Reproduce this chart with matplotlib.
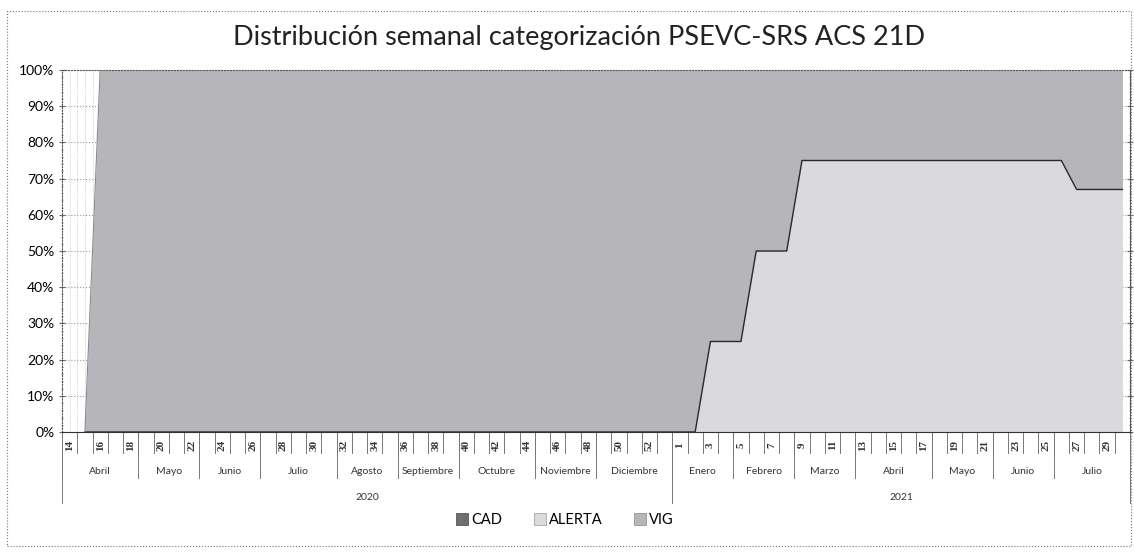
import numpy as np
import matplotlib.pyplot as plt
from matplotlib.patches import Patch, Rectangle

# semanas epidemiologicas
semanas_2020 = [14, 15, 16, 17, 18, 19, 20, 21, 22, 23, 24, 25, 26, 27, 28, 29, 30, 31, 32, 33,
                34, 35, 36, 37, 38, 39, 40, 41, 42, 43, 44, 45, 46, 47, 48, 49, 50, 51, 52, 53]
semanas_2021 = [1, 2, 3, 4, 5, 6, 7, 8, 9, 10, 11, 12, 13, 14, 15, 16, 17, 18, 19, 20,
                21, 22, 23, 24, 25, 26, 27, 28, 29, 30]

# porcentaje por categoria (100% apilado)
cad_2020 = [0, 0, 0, 0, 0, 0, 0, 0, 0, 0, 0, 0, 0, 0, 0, 0, 0, 0, 0, 0,
            0, 0, 0, 0, 0, 0, 0, 0, 0, 0, 0, 0, 0, 0, 0, 0, 0, 0, 0, 0]
alerta_2020 = [0, 0, 0, 0, 0, 0, 0, 0, 0, 0, 0, 0, 0, 0, 0, 0, 0, 0, 0, 0,
               0, 0, 0, 0, 0, 0, 0, 0, 0, 0, 0, 0, 0, 0, 0, 0, 0, 0, 0, 0]
vig_2020 = [0, 0, 100, 100, 100, 100, 100, 100, 100, 100, 100, 100, 100, 100, 100, 100, 100, 100, 100, 100,
            100, 100, 100, 100, 100, 100, 100, 100, 100, 100, 100, 100, 100, 100, 100, 100, 100, 100, 100, 100]
cad_2021 = [0, 0, 0, 0, 0, 0, 0, 0, 0, 0, 0, 0, 0, 0, 0, 0, 0, 0, 0, 0,
            0, 0, 0, 0, 0, 0, 0, 0, 0, 0]
alerta_2021 = [0, 0, 25, 25, 25, 50, 50, 50, 75, 75, 75, 75, 75, 75, 75, 75, 75, 75, 75, 75,
               75, 75, 75, 75, 75, 75, 67, 67, 67, 67]
vig_2021 = [100, 100, 75, 75, 75, 50, 50, 50, 25, 25, 25, 25, 25, 25, 25, 25, 25, 25, 25, 25,
            25, 25, 25, 25, 25, 25, 33, 33, 33, 33]

meses_2020 = ["Abril", "Mayo", "Junio", "Julio", "Agosto", "Septiembre", "Octubre", "Noviembre", "Diciembre"]
nsem_2020 = [5, 4, 4, 5, 4, 4, 5, 4, 5]
meses_2021 = ["Enero", "Febrero", "Marzo", "Abril", "Mayo", "Junio", "Julio"]
nsem_2021 = [4, 4, 4, 5, 4, 4, 5]
anios = ["2020", "2021"]

semanas = semanas_2020 + semanas_2021
cad = np.array(cad_2020 + cad_2021, dtype=float)
alerta = np.array(alerta_2020 + alerta_2021, dtype=float)
vig = np.array(vig_2020 + vig_2021, dtype=float)
x = np.arange(len(semanas))

plt.rcParams['font.family'] = ['Lato', 'DejaVu Sans']

fig = plt.figure(figsize=(11.34, 5.53), dpi=100)
ax = fig.add_axes([62/1134, 1-432/553, 1068/1134, 362/553])

c_cad = '#6f6f73'
c_alerta = '#dadadd'
c_vig = '#b5b5ba'

y1 = cad
y2 = cad + alerta
y3 = cad + alerta + vig
ax.fill_between(x, 0, y1, color=c_cad, lw=0, zorder=2)
ax.fill_between(x, y1, y2, color=c_alerta, lw=0, zorder=2)
ax.fill_between(x, y2, y3, color=c_vig, lw=0, zorder=2)
# bordes de las areas
ax.plot(x[1:], y2[1:], color='#2a2a2a', lw=1.0, zorder=3)
ax.plot(x[1:3], y3[1:3], color='#8c8c90', lw=0.8, zorder=3)

ax.set_xlim(-0.5, len(x) - 0.5)
ax.set_ylim(0, 100)
ax.set_yticks(np.arange(0, 101, 10))
ax.set_yticklabels([f"{v}%" for v in range(0, 101, 10)], fontsize=10)
ax.set_yticks(np.arange(0, 101, 2), minor=True)
ax.tick_params(axis='y', which='major', length=4, direction='inout', color='#666666')
ax.tick_params(axis='y', which='minor', length=2, direction='inout', color='#888888')
ax.tick_params(axis='y', which='both', right=True)
ax.set_xticks([])
ax.grid(axis='y', color='#999999', ls=':', lw=0.8, zorder=0)
for b in np.arange(-0.5, len(x), 0.5):
    ax.axvline(b, color='#bbbbbb', ls=':', lw=0.6, zorder=0)
for s in ['top', 'left']:
    ax.spines[s].set_linestyle(':')
    ax.spines[s].set_color('#555555')
ax.spines['bottom'].set_color('#333333')
ax.spines['right'].set_color('#555555')

# ejes de categorias multinivel
xt = ax.get_xaxis_transform()
for b in np.arange(-0.5, len(x) + 0.5, 1):
    ax.plot([b, b], [0, -0.058], transform=xt, color='#777777', lw=0.7, clip_on=False)
for i, w in enumerate(semanas):
    if i % 2 == 0:
        ax.text(i, -0.036, str(w), transform=xt, rotation=90, ha='center', va='center',
                fontsize=8, family='Liberation Serif', fontweight='bold', color='#333333')

inicio = -0.5
for nombres, nsem in [(meses_2020, nsem_2020), (meses_2021, nsem_2021)]:
    for nom, n in zip(nombres, nsem):
        ax.text(inicio + n / 2, -0.11, nom, transform=xt, ha='center', va='center',
                fontsize=7.5, color='#333333')
        ax.plot([inicio, inicio], [0, -0.127], transform=xt, color='#777777', lw=0.7, clip_on=False)
        inicio += n
ax.plot([inicio, inicio], [0, -0.196], transform=xt, color='#777777', lw=0.7, clip_on=False)

inicio = -0.5
for anio, nsem in zip(anios, [nsem_2020, nsem_2021]):
    n = sum(nsem)
    ax.text(inicio + n / 2, -0.182, anio, transform=xt, ha='center', va='center',
            fontsize=7.5, color='#333333')
    ax.plot([inicio, inicio], [0, -0.196], transform=xt, color='#777777', lw=0.7, clip_on=False)
    inicio += n

fig.text(579/1134, 1-38/553, "Distribución semanal categorización PSEVC-SRS ACS 21D",
         ha='center', va='center', fontsize=19.5, color='#222222')

handles = [Patch(facecolor=c_cad, edgecolor='#444444', lw=0.5),
           Patch(facecolor=c_alerta, edgecolor='#999999', lw=0.5),
           Patch(facecolor=c_vig, edgecolor='#888888', lw=0.5)]
fig.legend(handles, ["CAD", "ALERTA", "VIG"], loc='center', bbox_to_anchor=(565/1134, 1-520/553),
           ncol=3, frameon=False, fontsize=10.5, handlelength=0.8, handleheight=0.8,
           handletextpad=0.2, columnspacing=2.2)

# borde del area del grafico
fig.patches.append(Rectangle((7/1134, 1-546/553), 1124/1134, 535/553, transform=fig.transFigure,
                             fill=False, ls=':', lw=0.8, edgecolor='#777777'))

fig.savefig("out.png", dpi=100)
